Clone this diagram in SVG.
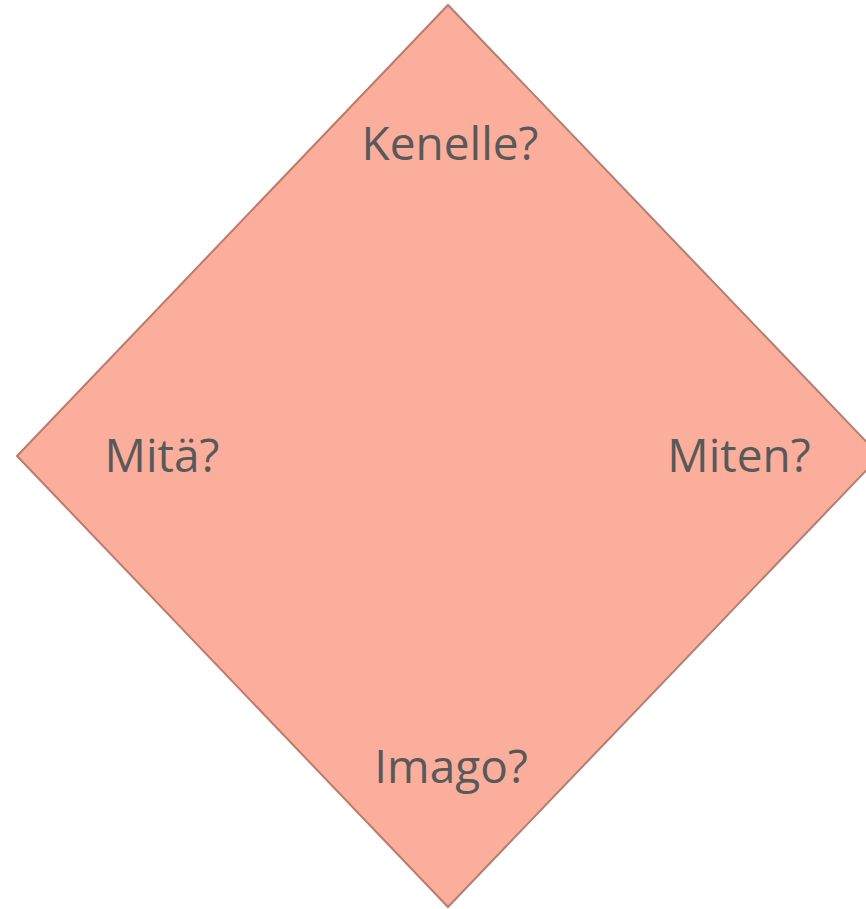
<svg xmlns="http://www.w3.org/2000/svg" width="866" height="909" viewBox="0 0 866 909">
<style>
.lbl{font-family:"Open Sans","Noto Sans","Liberation Sans",sans-serif;font-size:46px;fill:#595959;text-anchor:middle}
</style>
<rect width="866" height="909" fill="#ffffff"/>
<g id="diamond">
<polygon points="448,5 880,456 448,907 17,456" fill="#FCAE9C" stroke="#B97B6E" stroke-width="2"/>
</g>
<g id="kenelle"><text class="lbl" x="450" y="160">Kenelle?</text></g>
<g id="mita"><text class="lbl" x="162" y="472">Mitä?</text></g>
<g id="miten"><text class="lbl" x="739" y="472">Miten?</text></g>
<g id="imago"><text class="lbl" x="451" y="783">Imago?</text></g>
</svg>
